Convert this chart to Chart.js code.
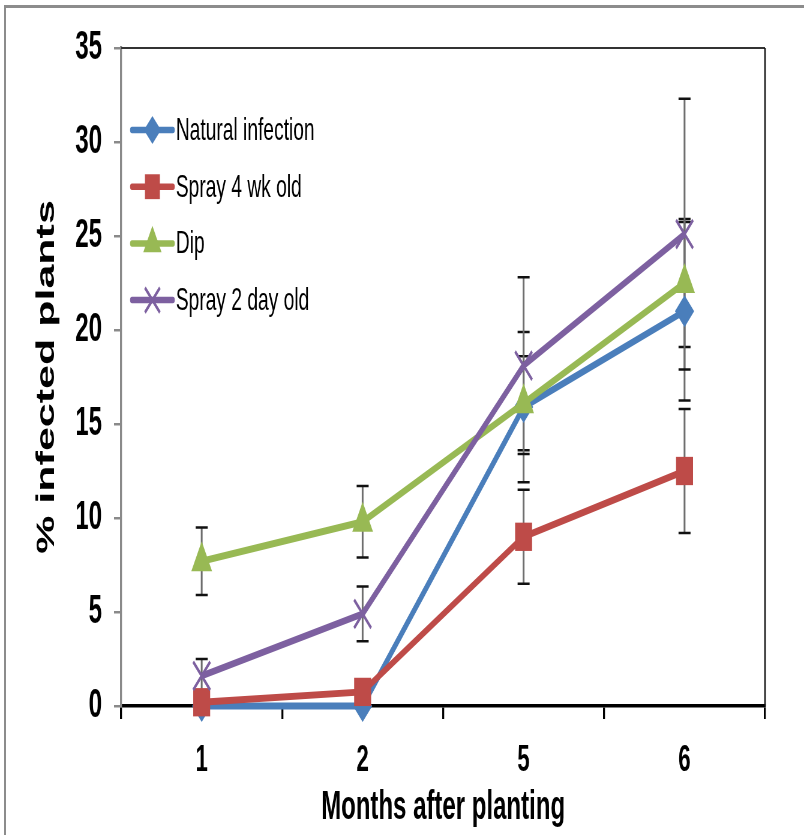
<!DOCTYPE html>
<html><head><meta charset="utf-8">
<script src="https://cdn.jsdelivr.net/npm/chart.js@4/dist/chart.umd.min.js"></script>
<style>
html,body{margin:0;padding:0;background:#fff;overflow:hidden;}
#wrap{position:relative;width:804px;height:835px;overflow:hidden;background:#fff;}
#squash{position:absolute;left:0;top:0;width:1340px;height:835px;transform:scaleX(0.6);transform-origin:0 0;}
#c{display:block;}
#frame{position:absolute;left:4px;top:5px;right:-10px;bottom:-10px;border-top:3px solid #8c8c8c;border-left:2px solid #8c8c8c;pointer-events:none;}
</style></head><body>
<div id="wrap"><div id="squash"><canvas id="c" width="1340" height="835"></canvas></div><div id="frame"></div></div>
<script>
// ---- data ----
const categories = ['1', '2', '5', '6'];
const seriesNames = ['Natural infection', 'Spray 4 wk old', 'Dip', 'Spray 2 day old'];
const naturalInfection = [0, 0, 15.9, 21];
const naturalInfectionErr = [0, 0, 4, 4.75];
const spray4wk = [0.2, 0.75, 9, 12.5];
const spray4wkErr = [0, 0, 2.5, 3.3];
const dip = [7.7, 9.8, 16.1, 22.5];
const dipErr = [1.8, 1.9, 2.5, 3.4];
const spray2day = [1.6, 4.9, 18.1, 25.1];
const spray2dayErr = [0.9, 1.45, 4.7, 7.2];
const yTicks = [0, 5, 10, 15, 20, 25, 30, 35];
const xTitle = 'Months after planting';
const yTitle = '% infected plants';

const FONT = '"Liberation Sans", Arial, Helvetica, sans-serif';

const styles = [
  {color: '#4A7EBB', pointStyle: 'rectRot', radius: 16},
  {color: '#BE4B48', pointStyle: 'rect', radius: 20},
  {color: '#98B954', pointStyle: 'triangle', radius: 20},
  {color: '#7D60A0', pointStyle: 'crossRot', radius: 20}
];
const values = [naturalInfection, spray4wk, dip, spray2day];
const errors = [naturalInfectionErr, spray4wkErr, dipErr, spray2dayErr];

const datasets = values.map((v, i) => ({
  label: seriesNames[i],
  data: v,
  errors: errors[i],
  borderColor: styles[i].color,
  backgroundColor: styles[i].color,
  pointBackgroundColor: styles[i].color,
  pointBorderColor: styles[i].color,
  pointBorderWidth: styles[i].pointStyle === 'crossRot' ? 3.5 : 0,
  pointStyle: styles[i].pointStyle,
  pointRadius: styles[i].radius,
  borderWidth: 7,
  tension: 0,
  clip: false,
  order: 4 - i
}));

const errorBars = {
  id: 'errorBars',
  beforeDatasetsDraw(chart) {
    const ctx = chart.ctx, xs = chart.scales.x, ys = chart.scales.y;
    ctx.save();
    chart.data.datasets.forEach(ds => {
      ds.data.forEach((v, i) => {
        const e = ds.errors[i];
        if (!e) return;
        const x = xs.getPixelForValue(i);
        const yt = ys.getPixelForValue(v + e), yb = ys.getPixelForValue(v - e);
        ctx.strokeStyle = '#6e6e6e';
        ctx.lineWidth = 3;
        ctx.beginPath(); ctx.moveTo(x, yt); ctx.lineTo(x, yb); ctx.stroke();
        ctx.strokeStyle = '#111';
        ctx.lineWidth = 2.5;
        ctx.beginPath();
        ctx.moveTo(x - 10, yt); ctx.lineTo(x + 10, yt);
        ctx.moveTo(x - 10, yb); ctx.lineTo(x + 10, yb);
        ctx.stroke();
      });
    });
    ctx.restore();
  }
};

const frameAndLegend = {
  id: 'frameAndLegend',
  afterDraw(chart) {
    const ctx = chart.ctx, a = chart.chartArea;
    ctx.save();
    ctx.strokeStyle = '#333';
    ctx.lineWidth = 2;
    ctx.beginPath(); ctx.moveTo(a.left, a.top); ctx.lineTo(a.right, a.top); ctx.stroke();
    ctx.strokeStyle = '#111';
    ctx.lineWidth = 2.5;
    ctx.beginPath(); ctx.moveTo(a.right, a.top); ctx.lineTo(a.right, a.bottom); ctx.stroke();
    chart.data.datasets.forEach((ds, i) => {
      const y = a.top + 82 + i * 56.7;
      ctx.strokeStyle = ds.borderColor;
      ctx.lineWidth = 6.5;
      ctx.lineCap = 'round';
      ctx.beginPath(); ctx.moveTo(a.left + 18, y); ctx.lineTo(a.left + 86, y); ctx.stroke();
      ctx.lineCap = 'butt';
      ctx.fillStyle = ds.pointBackgroundColor;
      ctx.strokeStyle = ds.pointBorderColor;
      ctx.lineWidth = ds.pointBorderWidth;
      if (Chart.helpers && Chart.helpers.drawPoint) {
        Chart.helpers.drawPoint(ctx, {pointStyle: ds.pointStyle, radius: ds.pointRadius * 0.88, rotation: 0, borderWidth: ds.pointBorderWidth}, a.left + 52, y);
      }
      ctx.fillStyle = '#000';
      ctx.font = '32px ' + FONT;
      ctx.textAlign = 'left';
      ctx.textBaseline = 'middle';
      ctx.fillText(ds.label, a.left + 91, y + 1);
    });
    ctx.restore();
  }
};

new Chart(document.getElementById('c'), {
  type: 'line',
  data: {labels: categories, datasets},
  plugins: [errorBars, frameAndLegend],
  options: {
    responsive: false,
    animation: false,
    devicePixelRatio: 1,
    layout: {padding: {left: 0, top: 48, right: 65, bottom: 0}},
    plugins: {legend: {display: false}, tooltip: {enabled: false}},
    scales: {
      x: {
        type: 'category',
        offset: true,
        grid: {display: true, offset: true, drawOnChartArea: false, drawTicks: true, tickLength: 13, color: '#000', lineWidth: 3.3},
        border: {display: true, color: '#000', width: 3.5},
        ticks: {color: '#000', padding: 20, font: {family: FONT, size: 37, weight: 'bold'}},
        title: {display: true, text: xTitle, color: '#000', font: {family: FONT, size: 40, weight: 'bold', lineHeight: 1.2}, padding: {top: 0, bottom: 3}},
        afterFit(s) { s.height = 129; }
      },
      y: {
        min: 0, max: 35,
        afterBuildTicks(s) { s.ticks = yTicks.map(v => ({value: v})); },
        grid: {display: true, drawOnChartArea: false, drawTicks: true, tickLength: 12, color: '#8a8a8a', lineWidth: 2.5},
        border: {display: true, color: '#8a8a8a', width: 3.3},
        ticks: {color: '#000', padding: 20, font: {family: FONT, size: 40, weight: 'bold'}},
        title: {display: true, text: yTitle, color: '#000', font: {family: FONT, size: 43, weight: 'bold', lineHeight: 1.2}, padding: {top: 52, bottom: 0}},
        afterFit(s) { s.width = 202; }
      }
    }
  }
});
</script>
</body></html>
